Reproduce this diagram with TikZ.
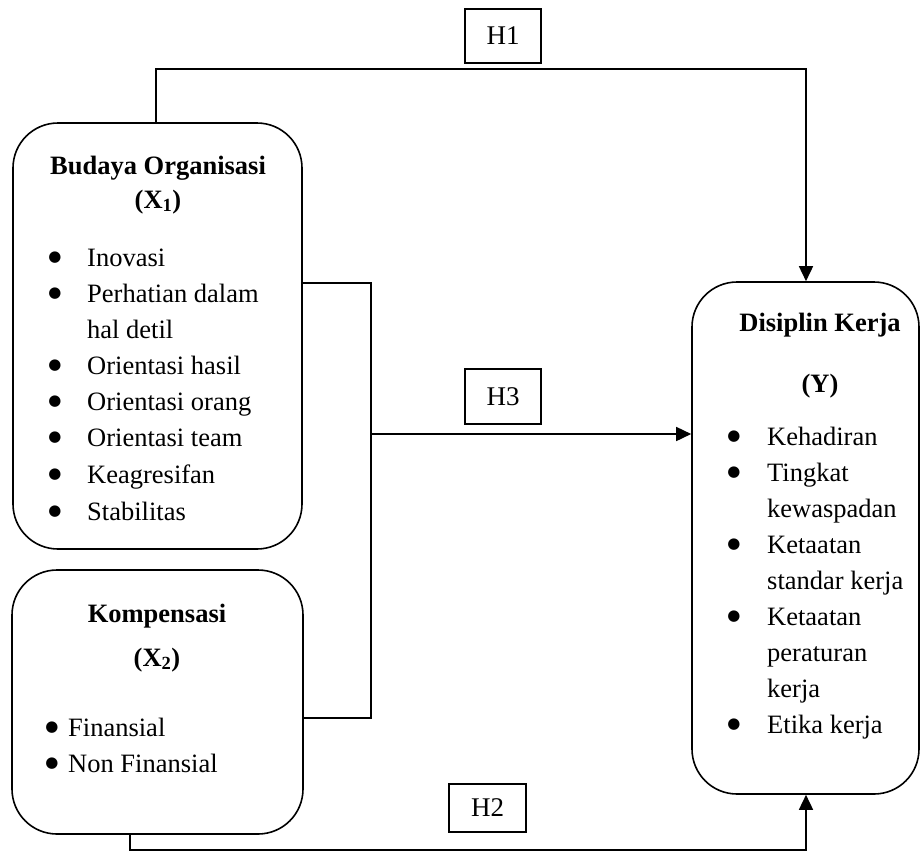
\documentclass[tikz,border=0pt]{standalone}
\usepackage{fontspec}
\setmainfont{Liberation Serif}
\newfontfamily\dejavu{DejaVu Sans}
\usetikzlibrary{arrows.meta}
\newcommand{\bigbul}{\raisebox{4.5pt}{\dejavu\fontsize{15}{15}\selectfont ●}}
\begin{document}
\begin{tikzpicture}[x=1pt,y=-1pt,
  box/.style={draw, line width=1.6pt, rounded corners=45pt, inner sep=0pt},
  hbox/.style={draw, line width=1.3pt, inner sep=0pt, font=\fontsize{27}{30}\selectfont},
  txt/.style={inner sep=0pt, anchor=base west, font=\fontsize{26.5}{30}\selectfont},
  head/.style={inner sep=0pt, anchor=base, font=\fontsize{26.5}{30}\selectfont\bfseries},
  bul/.style={inner sep=0pt, anchor=base},
  conn/.style={line width=1.6pt},
  arr/.style={conn, -{Triangle[length=15pt,width=14pt]}}]
\useasboundingbox (0,0) rectangle (921,852);

% boxes
\node[box, minimum width=289pt, minimum height=426pt] (b1) at (157.5,336) {};
\node[box, minimum width=291pt, minimum height=264pt] (b2) at (157.5,702) {};
\node[box, minimum width=227pt, minimum height=512pt] (b3) at (805.5,538) {};

% box 1 text
\node[head] (h1a) at (158,174) {Budaya Organisasi};
\node[head] (h1b) at (158,208) {(X\textsubscript{1})};
\foreach \y/\t/\b [count=\i] in {266/Inovasi/1, 302/Perhatian dalam/1, 338/hal detil/0,
  374/Orientasi hasil/1, 410/Orientasi orang/1, 446/Orientasi team/1,
  483/Keagresifan/1, 520/Stabilitas/1}{
  \node[txt] (t1\i) at (87,\y) {\t};
  \ifnum\b=1 \node[bul] (u1\i) at (55,\y) {\bigbul}; \fi
}

% box 2 text
\node[head] (h2a) at (157,622) {Kompensasi};
\node[head] (h2b) at (157,666) {(X\textsubscript{2})};
\node[bul] (u21) at (52,736) {\bigbul};
\node[txt] (t21) at (68,736) {Finansial};
\node[bul] (u22) at (52,772) {\bigbul};
\node[txt] (t22) at (68,772) {Non Finansial};

% box 3 text
\node[head] (h3a) at (820,331) {Disiplin Kerja};
\node[head] (h3b) at (820,392) {(Y)};
\foreach \y/\t/\b [count=\i] in {445/Kehadiran/1, 481/Tingkat/1, 517/kewaspadan/0,
  553/Ketaatan/1, 589/standar kerja/0, 625/Ketaatan/1, 661/peraturan/0,
  697/kerja/0, 733/Etika kerja/1}{
  \node[txt] (t3\i) at (767,\y) {\t};
  \ifnum\b=1 \node[bul] (u3\i) at (734,\y) {\bigbul}; \fi
}

% hypothesis labels
\node[hbox, minimum width=76pt, minimum height=54pt] (H1) at (503,36) {H1};
\node[hbox, minimum width=76pt, minimum height=55pt] (H3) at (503,396.5) {H3};
\node[hbox, minimum width=77pt, minimum height=48pt] (H2) at (487.5,808) {H2};

% connector coordinates
\coordinate (tl) at (156,69);
\coordinate (tr) at (806,69);
\coordinate (ja) at (371,283);
\coordinate (jb) at (371,718);
\coordinate (jm) at (371,434);
\coordinate (bl) at (130,850);
\coordinate (br) at (806,850);

% H1
\draw[arr] (tl |- b1.north) -- (tl) -- (tr) -- (tr |- b3.north);
% H3
\draw[conn] (b1.east |- ja) -- (ja) -- (jb) -- (b2.east |- jb);
\draw[arr] (jm) -- (b3.west |- jm);
% H2
\draw[arr] (bl |- b2.south) -- (bl) -- (br) -- (br |- b3.south);
\end{tikzpicture}
\end{document}
